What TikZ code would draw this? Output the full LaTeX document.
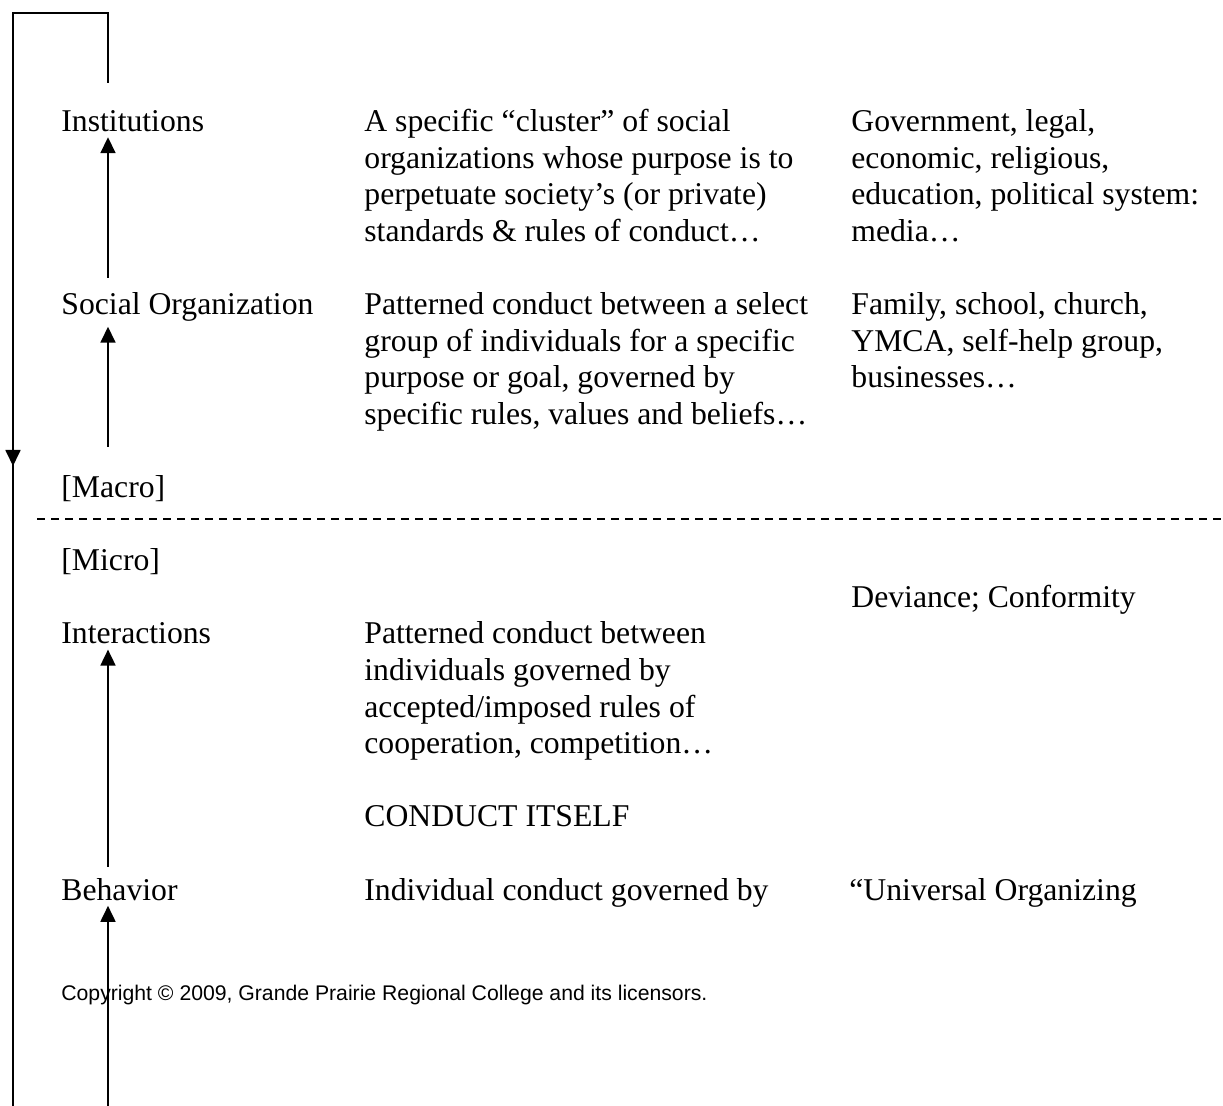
\documentclass[tikz,border=0pt]{standalone}
\usepackage{fontspec}
\setmainfont{Liberation Serif}
\newfontfamily\copyfont{Liberation Sans}
\usetikzlibrary{arrows.meta}

\begin{document}
\begin{tikzpicture}[x=0.5pt,y=-0.5pt,
  lbl/.style={anchor=base west,inner xsep=0pt,inner ysep=2.5pt,align=left,
    font=\fontsize{15.85}{18.3}\selectfont},
  rule/.style={line width=0.9pt},
  arr/.style={line width=0.9pt,-{Triangle[length=8pt,width=7.5pt]}}]
\useasboundingbox (0,0) rectangle (1223,1106);
% macro level (multi-line nodes sit on their last line)
\node[lbl] (inst) at (61,131.5) {Institutions};
\node[lbl] (instdef) at (364,241.3) {A specific \textquotedblleft cluster\textquotedblright\ of social\\organizations whose purpose is to\\perpetuate society\textquoteright s (or private)\\standards \& rules of conduct\dots};
\node[lbl] (instex) at (851,241.3) {Government, legal,\\economic, religious,\\education, political system:\\media\dots};
\node[lbl] (sorg) at (61,314.5) {Social Organization};
\node[lbl] (sorgdef) at (364,424.3) {Patterned conduct between a select\\group of individuals for a specific\\purpose or goal, governed by\\specific rules, values and beliefs\dots};
\node[lbl] (sorgex) at (851,387.7) {Family, school, church,\\YMCA, self-help group,\\businesses\dots};
\node[lbl] (macro) at (61,497.5) {[Macro]};
% micro level
\node[lbl] (micro) at (61,570.7) {[Micro]};
\node[lbl] (devconf) at (851,607.3) {Deviance; Conformity};
\node[lbl] (inter) at (61,643.9) {Interactions};
\node[lbl] (interdef) at (364,753.7) {Patterned conduct between\\individuals governed by\\accepted/imposed rules of\\cooperation, competition\dots};
\node[lbl] (conduct) at (364,826.9) {CONDUCT ITSELF};
\node[lbl] (behav) at (61,900.1) {Behavior};
\node[lbl] (behavdef) at (364,900.1) {Individual conduct governed by};
\node[lbl] (behavex) at (849,900.1) {\textquotedblleft Universal Organizing};
\node[anchor=base west,inner sep=0pt,font=\copyfont\fontsize{10.6}{12}\selectfont] (copyr) at (61,1001) {Copyright \textcopyright\ 2009, Grande Prairie Regional College and its licensors.};
% divider
\coordinate (dl) at (37,519);
\coordinate (dr) at (1223,519);
\draw[rule,dash pattern=on 4pt off 3pt] (dl) -- (dr);
% upward arrows
\coordinate (t1) at (108,278);
\coordinate (t2) at (108,447);
\coordinate (t3) at (108,867);
\coordinate (t4) at (108,1106);
\draw[arr] (t1) -- (inst.south -| t1);
\draw[arr] (t2) -- (sorg.south -| t2);
\draw[arr] (t3) -- (inter.south -| t3);
\draw[arr] (t4) -- (behav.south -| t4);
% feedback loop
\coordinate (fb) at (108,83);
\coordinate (fbm) at (13,466);
\draw[rule] (fb) |- (13,13) -- (13,1106);
\draw[arr] (13,430) -- (fbm);
\end{tikzpicture}
\end{document}
